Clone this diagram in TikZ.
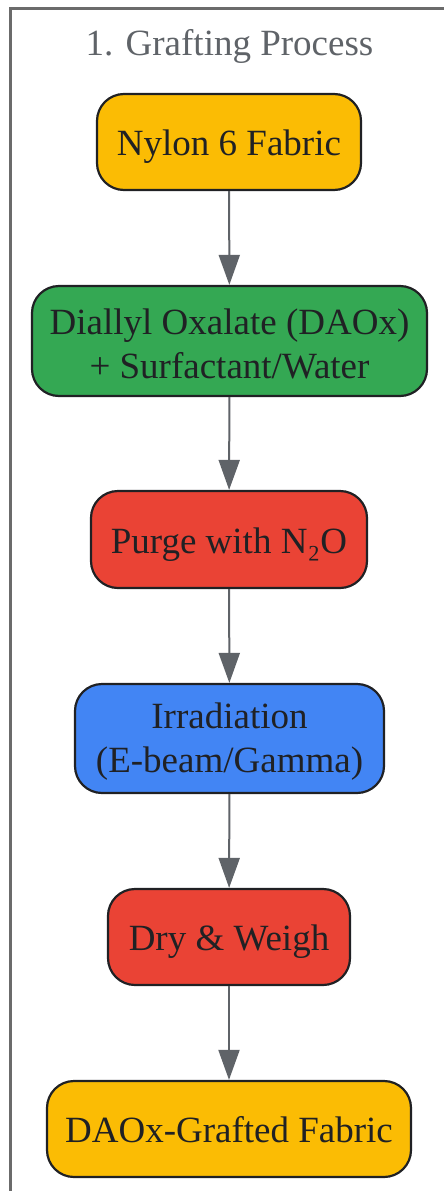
\documentclass[tikz,border=0pt]{standalone}
\usepackage{fontspec}
\setmainfont{Liberation Serif}
\usetikzlibrary{arrows.meta}
\definecolor{yel}{HTML}{FBBC04}
\definecolor{grn}{HTML}{34A853}
\definecolor{redc}{HTML}{EA4335}
\definecolor{blu}{HTML}{4285F4}
\definecolor{ink}{HTML}{202124}
\definecolor{greyc}{HTML}{5F6368}
\definecolor{framec}{HTML}{6B6B6B}
\newcommand{\topstrut}{\rule{0pt}{31.5pt}}
\begin{document}
\begin{tikzpicture}[x=1pt,y=-1pt,
  box/.style={draw=ink, line width=2.2pt, rounded corners=27pt, text=ink, align=center,
    font=\fontsize{37}{43.5}\selectfont, inner sep=0pt},
  one/.style={box, text height=27.5pt, text depth=0pt},
  arr/.style={draw=greyc, line width=2pt, -{Triangle[length=30pt,width=21pt]}}]
\useasboundingbox (0,0) rectangle (444,1191);
\clip (0,0) rectangle (444,1191);
\draw[framec, line width=2.2pt] (10.5,8.5) rectangle (480,1230);
\node[text=greyc, font=\fontsize{37}{42}\selectfont, anchor=base] (title) at (229.5,55) {1. Grafting Process};
\node[one, fill=yel, minimum width=264, minimum height=96] (n1) at (229,142) {Nylon 6 Fabric};
\node[box, fill=grn, minimum width=395, minimum height=110] (n2) at (229.5,341) {\topstrut Diallyl Oxalate (DAOx)\\+ Surfactant/Water};
\node[one, fill=redc, minimum width=276, minimum height=97] (n3) at (229,539.5) {Purge with N₂O};
\node[box, fill=blu, minimum width=309, minimum height=109] (n4) at (229.5,738.5) {\topstrut Irradiation\\(E-beam/Gamma)};
\node[one, fill=redc, minimum width=242, minimum height=96] (n5) at (229,937) {Dry \& Weigh};
\node[one, fill=yel, minimum width=364, minimum height=96] (n6) at (229,1129) {DAOx-Grafted Fabric};
\draw[arr] (n1) -- (n2);
\draw[arr] (n2) -- (n3);
\draw[arr] (n3) -- (n4);
\draw[arr] (n4) -- (n5);
\draw[arr] (n5) -- (n6);
\end{tikzpicture}
\end{document}
